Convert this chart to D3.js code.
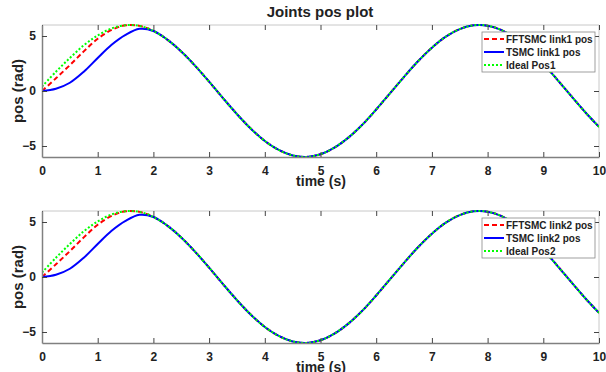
<!DOCTYPE html>
<html>
<head>
  <meta charset="utf-8">
  <script src="https://d3js.org/d3.v7.min.js"></script>
  <style>
    body { margin: 0; background: #fff; }
    text { font-family: "Liberation Sans", Arial, sans-serif; font-weight: bold; fill: #222; }
  </style>
</head>
<body>
<script>
// time samples (s)
var timeS = [0,0.25,0.5,0.75,1,1.25,1.5,1.75,2,2.25,2.5,2.75,3,3.25,3.5,3.75,4,4.25,4.5,4.75,5,
             5.25,5.5,5.75,6,6.25,6.5,6.75,7,7.25,7.5,7.75,8,8.25,8.5,8.75,9,9.25,9.5,9.75,10];

// link 1 (rad)
var idealPos1  = [0.4,1.75,3.0,4.15,5.05,5.69,5.98,5.92,5.46,4.67,3.59,2.29,0.85,-0.65,-2.10,-3.43,-4.54,-5.36,-5.86,-5.99,-5.75,
                  -5.15,-4.24,-3.07,-1.68,-0.20,1.29,2.70,3.94,4.94,5.63,5.97,5.94,5.54,4.79,3.75,2.47,1.04,-0.45,-1.91,-3.26];
var fftsmcPos1 = [0,1.15,2.35,3.6,4.75,5.55,5.97,5.92,5.46,4.67,3.59,2.29,0.85,-0.65,-2.10,-3.43,-4.54,-5.36,-5.86,-5.99,-5.75,
                  -5.15,-4.24,-3.07,-1.68,-0.20,1.29,2.70,3.94,4.94,5.63,5.97,5.94,5.54,4.79,3.75,2.47,1.04,-0.45,-1.91,-3.26];
var tsmcPos1   = [0,0.2,0.75,1.75,3.0,4.2,5.1,5.65,5.46,4.67,3.59,2.29,0.85,-0.65,-2.10,-3.43,-4.54,-5.36,-5.86,-5.99,-5.75,
                  -5.15,-4.24,-3.07,-1.68,-0.20,1.29,2.70,3.94,4.94,5.63,5.97,5.94,5.54,4.79,3.75,2.47,1.04,-0.45,-1.91,-3.26];

// link 2 (rad)
var idealPos2  = [0.4,1.75,3.0,4.15,5.05,5.69,5.98,5.92,5.46,4.67,3.59,2.29,0.85,-0.65,-2.10,-3.43,-4.54,-5.36,-5.86,-5.99,-5.75,
                  -5.15,-4.24,-3.07,-1.68,-0.20,1.29,2.70,3.94,4.94,5.63,5.97,5.94,5.54,4.79,3.75,2.47,1.04,-0.45,-1.91,-3.26];
var fftsmcPos2 = [0,1.15,2.35,3.6,4.75,5.55,5.97,5.92,5.46,4.67,3.59,2.29,0.85,-0.65,-2.10,-3.43,-4.54,-5.36,-5.86,-5.99,-5.75,
                  -5.15,-4.24,-3.07,-1.68,-0.20,1.29,2.70,3.94,4.94,5.63,5.97,5.94,5.54,4.79,3.75,2.47,1.04,-0.45,-1.91,-3.26];
var tsmcPos2   = [0,0.2,0.75,1.75,3.0,4.2,5.1,5.65,5.46,4.67,3.59,2.29,0.85,-0.65,-2.10,-3.43,-4.54,-5.36,-5.86,-5.99,-5.75,
                  -5.15,-4.24,-3.07,-1.68,-0.20,1.29,2.70,3.94,4.94,5.63,5.97,5.94,5.54,4.79,3.75,2.47,1.04,-0.45,-1.91,-3.26];

var xTicks = [0,1,2,3,4,5,6,7,8,9,10];
var yTicks = [-5,0,5];

var W = 606, H = 372;
var svg = d3.select("body").append("svg").attr("width", W).attr("height", H);

var x = d3.scaleLinear().domain([0, 10]).range([42, 599]);

svg.append("text").attr("x", 320).attr("y", 17).attr("text-anchor", "middle")
  .style("font-size", "15px").text("Joints pos plot");

function panel(top, bottom, series, names, id) {
  var y = d3.scaleLinear().domain([-6, 6]).range([bottom, top]);
  var g = svg.append("g");

  g.append("clipPath").attr("id", "clip" + id).append("rect")
    .attr("x", x(0)).attr("y", top - 1).attr("width", x(10) - x(0)).attr("height", bottom - top + 2);

  // light top/right box edges
  g.append("path").attr("d", "M" + x(0) + "," + top + "H" + x(10) + "V" + bottom)
    .attr("fill", "none").attr("stroke", "#c8c8c8").attr("stroke-width", 1);

  var line = d3.line().x(function(d) { return x(d[0]); }).y(function(d) { return y(d[1]); })
    .curve(d3.curveCatmullRom);

  var styles = [
    {color: "#ff0000", dash: "5,3"},
    {color: "#0000ff", dash: null},
    {color: "#00ff00", dash: "2,2"}
  ];
  series.forEach(function(vals, i) {
    var pts = timeS.map(function(t, k) { return [t, vals[k]]; });
    g.append("path").attr("d", line(pts)).attr("clip-path", "url(#clip" + id + ")")
      .attr("fill", "none").attr("stroke", styles[i].color).attr("stroke-width", 2)
      .attr("stroke-dasharray", styles[i].dash);
  });

  var xa = g.append("g").attr("transform", "translate(0," + bottom + ")")
    .call(d3.axisBottom(x).tickValues(xTicks).tickFormat(d3.format("d"))
      .tickSizeInner(-5).tickSizeOuter(0).tickPadding(9));
  var xt = g.append("g").attr("transform", "translate(0," + top + ")")
    .call(d3.axisTop(x).tickValues(xTicks).tickFormat("").tickSizeInner(-5).tickSizeOuter(0));
  var ya = g.append("g").attr("transform", "translate(" + x(0) + ",0)")
    .call(d3.axisLeft(y).tickValues(yTicks).tickFormat(d3.format("d"))
      .tickSizeInner(-5).tickSizeOuter(0).tickPadding(6));
  var yr = g.append("g").attr("transform", "translate(" + x(10) + ",0)")
    .call(d3.axisRight(y).tickValues(yTicks).tickFormat("").tickSizeInner(-5).tickSizeOuter(0));
  [xa, ya].forEach(function(a) {
    a.select(".domain").attr("stroke", "#808080").attr("stroke-width", 1.5);
    a.selectAll(".tick line").attr("stroke", "#444");
    a.selectAll(".tick text").style("font-size", "12px").style("font-family", "Liberation Sans, Arial, sans-serif")
      .style("font-weight", "bold").attr("fill", "#222");
  });
  [xt, yr].forEach(function(a) {
    a.select(".domain").remove();
    a.selectAll(".tick line").attr("stroke", "#444");
  });

  svg.append("text").attr("x", 321).attr("y", bottom + 29).attr("text-anchor", "middle")
    .style("font-size", "14px").text("time (s)");
  svg.append("text").attr("transform", "translate(23," + ((top + bottom) / 2) + ") rotate(-90)")
    .attr("text-anchor", "middle").style("font-size", "15px").text("pos (rad)");

  // legend
  var lx = 482, ly = top + 7;
  var lg = svg.append("g");
  lg.append("rect").attr("x", lx).attr("y", ly).attr("width", 113).attr("height", 40)
    .attr("fill", "#fff").attr("stroke", "#888").attr("stroke-width", 0.8);
  names.forEach(function(n, i) {
    var yy = ly + 7 + i * 13;
    lg.append("line").attr("x1", lx + 2).attr("x2", lx + 22).attr("y1", yy).attr("y2", yy)
      .attr("stroke", styles[i].color).attr("stroke-width", 2).attr("stroke-dasharray", styles[i].dash);
    lg.append("text").attr("x", lx + 24).attr("y", yy + 3.5).style("font-size", "10px").text(n);
  });
}

panel(25, 157, [fftsmcPos1, tsmcPos1, idealPos1], ["FFTSMC link1 pos", "TSMC link1 pos", "Ideal Pos1"], 1);
panel(211, 343, [fftsmcPos2, tsmcPos2, idealPos2], ["FFTSMC link2 pos", "TSMC link2 pos", "Ideal Pos2"], 2);
</script>
</body>
</html>
